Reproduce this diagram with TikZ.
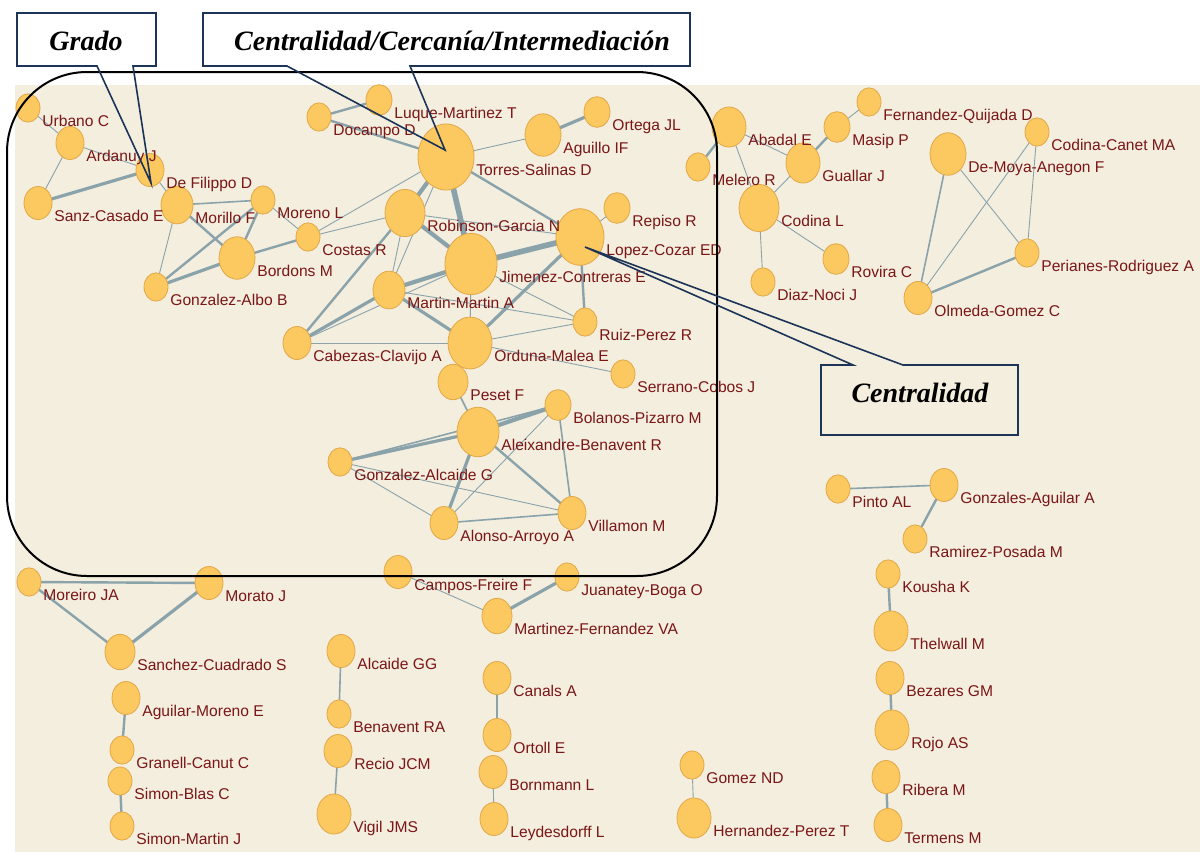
\documentclass[tikz,border=0pt]{standalone}
\usepackage{fontspec}
\newfontfamily\lblfont{Liberation Sans}
\newfontfamily\callfont{Liberation Serif}
\usetikzlibrary{shapes.geometric}

\definecolor{paper}{RGB}{244,238,223}
\definecolor{nodefill}{RGB}{252,200,96}
\definecolor{nodeline}{RGB}{224,168,72}
\definecolor{edgecol}{RGB}{138,163,170}
\definecolor{lblcol}{RGB}{122,22,22}
\definecolor{navy}{RGB}{28,52,88}

\pgfdeclarelayer{bg}
\pgfdeclarelayer{edges}
\pgfdeclarelayer{lbl}
\pgfdeclarelayer{top}
\pgfsetlayers{bg,edges,main,lbl,top}

\tikzset{
  author/.style={ellipse, draw=nodeline, line width=0.4pt, fill=nodefill, inner sep=0pt},
  lbl/.style={anchor=base west, inner sep=0pt, text=lblcol, font=\lblfont\fontsize{7.8}{9}\selectfont},
  link/.style={draw=edgecol, line cap=round},
  ea/.style={link, line width=0.45pt},
  eb/.style={link, line width=0.8pt},
  ec/.style={link, line width=1.2pt},
  ed/.style={link, line width=1.6pt},
  ee/.style={link, line width=2.1pt},
  ef/.style={link, line width=2.8pt},
  frame/.style={draw=black, line width=1pt, rounded corners=40pt},
  callout/.style={draw=navy, line width=0.8pt, line join=miter},
  calltext/.style={anchor=base, inner sep=0pt, font=\callfont\bfseries\itshape\fontsize{14}{16}\selectfont}
}

% author node: id, x, y, horizontal radius (px), name
\newcommand\pn[5]{%
  \pgfmathsetmacro\pnry{1.18*#4}%
  \node[author, minimum width=#4pt, minimum height=\pnry pt] (#1) at (#2,#3) {};%
  \begin{pgfonlayer}{lbl}%
    \node[lbl] (#1-l) at ({#2+#4+2},{#3+18.5}) {#5};%
  \end{pgfonlayer}%
}

\begin{document}
\begin{tikzpicture}[x=0.5pt, y=-0.5pt]
\useasboundingbox (0,0) rectangle (1200,852);

\begin{pgfonlayer}{bg}
  \fill[white] (0,0) rectangle (1200,852);
  \fill[paper] (15,85) rectangle (1200,852);
\end{pgfonlayer}

% ---- authors: main component
\pn{urb}{28}{108}{12}{Urbano C}
\pn{ard}{70}{143}{14}{Ardanuy J}
\pn{dfi}{150}{170}{14}{De Filippo D}
\pn{sanz}{38}{203}{14}{Sanz-Casado E}
\pn{mor}{177}{205}{16}{Morillo F}
\pn{mrn}{263}{200}{12}{Moreno L}
\pn{cos}{308}{237}{12}{Costas R}
\pn{bor}{237}{258}{18}{Bordons M}
\pn{galb}{156}{287}{12}{Gonzalez-Albo B}
\pn{doc}{319}{117}{12}{Docampo D}
\pn{luq}{379}{100}{13}{Luque-Martinez T}
\pn{tor}{446}{157}{28}{Torres-Salinas D}
\pn{agu}{543}{135}{18}{Aguillo IF}
\pn{ort}{597}{112}{13}{Ortega JL}
\pn{rob}{405}{213}{20}{Robinson-Garcia N}
\pn{rep}{617}{208}{13}{Repiso R}
\pn{lop}{580}{237}{24}{Lopez-Cozar ED}
\pn{jim}{471}{264}{26}{Jimenez-Contreras E}
\pn{mmart}{389}{290}{16}{Martin-Martin A}
\pn{ruiz}{585}{322}{12}{Ruiz-Perez R}
\pn{cab}{297}{343}{14}{Cabezas-Clavijo A}
\pn{ord}{470}{343}{22}{Orduna-Malea E}
\pn{ser}{623}{374}{12}{Serrano-Cobos J}
\pn{pes}{453}{382}{15}{Peset F}
\pn{bol}{558}{405}{13}{Bolanos-Pizarro M}
\pn{ale}{478}{432}{21}{Aleixandre-Benavent R}
\pn{galc}{340}{462}{12}{Gonzalez-Alcaide G}
\pn{vil}{572}{513}{14}{Villamon M}
\pn{alo}{444}{523}{14}{Alonso-Arroyo A}

% ---- authors: upper right groups
\pn{aba}{729}{127}{17}{Abadal E}
\pn{mel}{698}{167}{12}{Melero R}
\pn{fer}{869}{102}{12}{Fernandez-Quijada D}
\pn{mas}{837}{127}{13}{Masip P}
\pn{gua}{803}{163}{17}{Guallar J}
\pn{cod}{759}{208}{20}{Codina L}
\pn{rov}{836}{259}{13}{Rovira C}
\pn{dia}{763}{282}{12}{Diaz-Noci J}
\pn{dmo}{948}{154}{18}{De-Moya-Anegon F}
\pn{cca}{1037}{132}{12}{Codina-Canet MA}
\pn{per}{1027}{253}{12}{Perianes-Rodriguez A}
\pn{olm}{918}{298}{14}{Olmeda-Gomez C}

% ---- authors: small groups
\pn{mrei}{29}{582}{12}{Moreiro JA}
\pn{mrat}{209}{583}{14}{Morato J}
\pn{sanc}{120}{652}{15}{Sanchez-Cuadrado S}
\pn{agm}{126}{698}{14}{Aguilar-Moreno E}
\pn{gra}{122}{750}{12}{Granell-Canut C}
\pn{sbl}{120}{781}{12}{Simon-Blas C}
\pn{smj}{122}{826}{12}{Simon-Martin J}
\pn{alc}{341}{651}{14}{Alcaide GG}
\pn{ben}{339}{714}{12}{Benavent RA}
\pn{rec}{338}{751}{14}{Recio JCM}
\pn{vig}{334}{814}{17}{Vigil JMS}
\pn{cam}{398}{572}{14}{Campos-Freire F}
\pn{jua}{567}{577}{12}{Juanatey-Boga O}
\pn{mfe}{497}{616}{15}{Martinez-Fernandez VA}
\pn{can}{497}{678}{14}{Canals A}
\pn{ortl}{497}{735}{14}{Ortoll E}
\pn{bornm}{493}{772}{14}{Bornmann L}
\pn{ley}{494}{819}{14}{Leydesdorff L}
\pn{gom}{692}{765}{12}{Gomez ND}
\pn{her}{694}{818}{17}{Hernandez-Perez T}
\pn{pin}{838}{489}{12}{Pinto AL}
\pn{gag}{944}{485}{14}{Gonzales-Aguilar A}
\pn{ram}{915}{539}{12}{Ramirez-Posada M}
\pn{kou}{888}{574}{12}{Kousha K}
\pn{the}{891}{631}{17}{Thelwall M}
\pn{bez}{890}{678}{14}{Bezares GM}
\pn{rojo}{892}{730}{17}{Rojo AS}
\pn{rib}{886}{777}{14}{Ribera M}
\pn{ter}{888}{825}{14}{Termens M}

% ---- co-authorship links
\begin{pgfonlayer}{edges}
  % left group
  \draw[ea] (urb) -- (ard);
  \draw[ea] (ard) -- (sanz);
  \draw[ea] (ard) -- (dfi);
  \draw[ed] (sanz) -- (dfi);
  \draw[ea] (dfi) -- (mor);
  \draw[eb] (mor) -- (mrn);
  \draw[ec] (mor) -- (bor);
  \draw[ea] (mor) -- (galb);
  \draw[ec] (mrn) -- (bor);
  \draw[ec] (mrn) -- (galb);
  \draw[ea] (mrn) -- (cos);
  \draw[ed] (bor) -- (galb);
  \draw[ec] (bor) -- (cos);
  \draw[ea] (cos) -- (rob);
  \draw[ea] (cos) -- (tor);
  \draw[ec] (doc) -- (luq);
  \draw[ec] (doc) -- (tor);
  % central group
  \draw[ea] (tor) -- (agu);
  \draw[ed] (agu) -- (ort);
  \draw[ee] (tor) -- (rob);
  \draw[ef] (tor) -- (jim);
  \draw[ec] (tor) -- (lop);
  \draw[ea] (tor) -- (mmart);
  \draw[ee] (rob) -- (jim);
  \draw[ea] (rob) -- (lop);
  \draw[ea] (rob) -- (mmart);
  \draw[ec] (rob) -- (cab);
  \draw[ef] (jim) -- (lop);
  \draw[ee] (jim) -- (mmart);
  \draw[ea] (jim) -- (ord);
  \draw[ea] (jim) -- (ruiz);
  \draw[ea] (jim) -- (cab);
  \draw[ed] (lop) -- (ord);
  \draw[ec] (lop) -- (ruiz);
  \draw[ea] (lop) -- (rep);
  \draw[ed] (mmart) -- (ord);
  \draw[ed] (mmart) -- (cab);
  \draw[ea] (mmart) -- (ruiz);
  \draw[ea] (ord) -- (ruiz);
  \draw[ea] (ord) -- (cab);
  \draw[ea] (ord) -- (ser);
  \draw[ea] (ord) -- (pes);
  \draw[eb] (pes) -- (ale);
  \draw[ee] (ale) -- (bol);
  \draw[ed] (ale) -- (galc);
  \draw[eb] (galc) -- (bol);
  \draw[ed] (ale) -- (alo);
  \draw[ec] (ale) -- (vil);
  \draw[eb] (bol) -- (vil);
  \draw[ea] (bol) -- (alo);
  \draw[ea] (galc) -- (alo);
  \draw[ea] (galc) -- (vil);
  \draw[eb] (alo) -- (vil);
  % upper right groups
  \draw[ec] (aba) -- (mel);
  \draw[ea] (aba) -- (gua);
  \draw[ea] (aba) -- (cod);
  \draw[ec] (mas) -- (gua);
  \draw[ea] (mas) -- (fer);
  \draw[ea] (gua) -- (cod);
  \draw[ea] (cod) -- (rov);
  \draw[ea] (cod) -- (dia);
  \draw[eb] (dmo) -- (olm);
  \draw[ea] (dmo) -- (per);
  \draw[ea] (cca) -- (olm);
  \draw[ea] (cca) -- (per);
  \draw[ec] (olm) -- (per);
  % small groups
  \draw[ec] (mrei) -- (mrat);
  \draw[ec] (mrei) -- (sanc);
  \draw[ed] (mrat) -- (sanc);
  \draw[ec] (agm) -- (gra);
  \draw[ec] (sbl) -- (smj);
  \draw[eb] (alc) -- (ben);
  \draw[eb] (rec) -- (vig);
  \draw[ea] (cam) -- (mfe);
  \draw[ed] (jua) -- (mfe);
  \draw[ec] (can) -- (ortl);
  \draw[ea] (bornm) -- (ley);
  \draw[ea] (gom) -- (her);
  \draw[eb] (pin) -- (gag);
  \draw[ec] (gag) -- (ram);
  \draw[ec] (kou) -- (the);
  \draw[ec] (bez) -- (rojo);
  \draw[ec] (rib) -- (ter);
\end{pgfonlayer}

% ---- highlighted region and callouts
\begin{pgfonlayer}{top}
  \draw[frame] (7,72) rectangle (717,576);

  \coordinate (gradoTip) at (151,183);
  \draw[callout] (97,66) -- (17,66) -- (17,13) -- (156,13) -- (156,66) -- (133,66) -- (gradoTip) -- cycle;
  \node[calltext] (grado) at (86,50) {Grado};

  \coordinate (cciTip) at (445,150);
  \draw[callout] (287,66) -- (203,66) -- (203,13) -- (690,13) -- (690,66) -- (410,66) -- (cciTip) -- cycle;
  \node[calltext] (cci) at (452,50) {Centralidad/Cercanía/Intermediación};

  \coordinate (centTip) at (585,247);
  \draw[callout] (853,365) -- (821,365) -- (821,435) -- (1018,435) -- (1018,365) -- (903,365) -- (centTip) -- cycle;
  \node[calltext] (cent) at (920,402) {Centralidad};
\end{pgfonlayer}
\end{tikzpicture}
\end{document}
